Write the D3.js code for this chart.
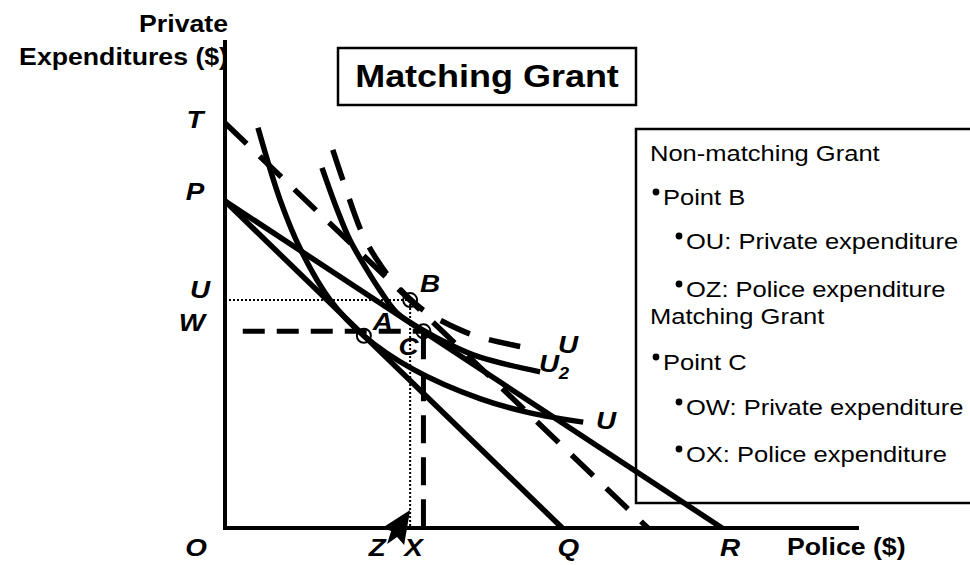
<!DOCTYPE html>
<html><head><meta charset="utf-8">
<script src="https://cdn.jsdelivr.net/npm/d3@7"></script>
<style>html,body{margin:0;padding:0;background:#fff;} svg{display:block;}</style>
</head><body><div id="chart"></div>
<script>
// ---- data (arbitrary units 0..100) ----
const levelT = 83, levelP = 67, levelU = 46.7, levelW = 40.3;
const posZ = 29.2, posX = 31.3, posQ = 53.2, posR = 78.4, posDash = 66.7;
const yLabels = ["T", "P", "U", "W"];
const yLabelValues = [levelT, levelP, levelU, levelW];
const xLabels = ["O", "Z", "X", "Q", "R"];
const xLabelValues = [0, posZ, posX, posQ, posR];
const budgetPQ = [[0, levelP], [posQ, 0]];
const budgetPR = [[0, levelP], [posR, 0]];
const budgetTD = [[0, levelT], [posDash, 0]];
const curveU1 = [[5.2,82],[8.7,67.2],[12.1,56.6],[16.6,46.7],[21.9,39.4],[29.7,32.5],[40.2,26.5],[48.1,23.6],[56.5,21.7]];
const curveU2 = [[15.3,73.8],[17.7,65.2],[19.7,59.0],[22.4,52.9],[24.4,48.8],[27.1,44.1],[31.3,40.5],[35,37.9],[40.2,35.0],[49.7,32.0]];
const curveU3 = [[17,77.5],[18.6,71.3],[21.6,60.5],[24,54.9],[26.5,50.5],[29.2,46.9],[31.9,44.1],[37.1,40.6],[40.2,39.1],[45.4,37.5],[49.7,36.5]];
const pointA = [21.9, 39.4], pointB = [posZ, levelU], pointC = [posX, levelW];
const titleText = "Matching Grant";
const legendLines = [
  {t: "Non-matching Grant", lvl: 0, bullet: false},
  {t: "Point B", lvl: 1, bullet: true},
  {t: "OU: Private expenditure", lvl: 2, bullet: true},
  {t: "OZ: Police expenditure", lvl: 2, bullet: true},
  {t: "Matching Grant", lvl: 0, bullet: false},
  {t: "Point C", lvl: 1, bullet: true},
  {t: "OW: Private expenditure", lvl: 2, bullet: true},
  {t: "OX: Police expenditure", lvl: 2, bullet: true}
];

// ---- drawing ----
const W = 970, H = 565, SX = 1.16;
const FONT = "'Liberation Sans', Arial, Helvetica, sans-serif";
const svg = d3.select("#chart").append("svg").attr("width", W).attr("height", H);
svg.append("rect").attr("width", W).attr("height", H).attr("fill", "#fff");

const x = d3.scaleLinear().domain([0, 100]).range([225, 859]);
const y = d3.scaleLinear().domain([0, 100]).range([528, 40]);

function txt(px, py, str, o = {}) {
  return svg.append("text")
    .attr("transform", `translate(${px},${py}) scale(${o.sx || SX},1)`)
    .attr("text-anchor", o.anchor || "middle")
    .attr("font-family", FONT)
    .attr("font-size", o.size || 24)
    .attr("font-weight", o.weight || "bold")
    .attr("font-style", o.style || "normal")
    .attr("fill", "#000")
    .text(str);
}

const line = d3.line().x(d => x(d[0])).y(d => y(d[1]));
const smooth = d3.line().x(d => x(d[0])).y(d => y(d[1])).curve(d3.curveCatmullRom.alpha(0.5));

// axes (no ticks)
svg.append("path").attr("d", line([[0, 100], [0, 0], [100, 0]]))
  .attr("fill", "none").attr("stroke", "#000").attr("stroke-width", 4);

// title box
svg.append("rect").attr("x", 338).attr("y", 48).attr("width", 298).attr("height", 57)
  .attr("fill", "#fff").attr("stroke", "#000").attr("stroke-width", 2.5);
txt(487, 87, titleText, {size: 31});

// legend box
svg.append("rect").attr("x", 636).attr("y", 129).attr("width", 340).attr("height", 374)
  .attr("fill", "#fff").attr("stroke", "#000").attr("stroke-width", 2.5);
const legendBase = [161, 205, 249, 297, 324, 370, 415, 462];
legendLines.forEach((l, i) => {
  const indent = [650, 652, 675][l.lvl];
  if (l.bullet) {
    svg.append("circle").attr("cx", indent + 4).attr("cy", legendBase[i] - 13).attr("r", 3.4).attr("fill", "#000");
    txt(indent + 11, legendBase[i], l.t, {anchor: "start", weight: "normal", size: 22});
  } else {
    txt(indent, legendBase[i], l.t, {anchor: "start", weight: "normal", size: 22});
  }
});

// axis titles
txt(228, 32, "Private", {anchor: "end", size: 23});
txt(228, 65, "Expenditures ($)", {anchor: "end", size: 23});
txt(787, 555, "Police ($)", {anchor: "start", size: 23});

// budget lines
[budgetPQ, budgetPR].forEach(b => {
  svg.append("path").attr("d", line(b)).attr("fill", "none").attr("stroke", "#000").attr("stroke-width", 5.5);
});
svg.append("path").attr("d", line(budgetTD)).attr("fill", "none").attr("stroke", "#000")
  .attr("stroke-width", 5.5).attr("stroke-dasharray", "30,18");

// indifference curves
svg.append("path").attr("d", smooth(curveU1)).attr("fill", "none").attr("stroke", "#000").attr("stroke-width", 5.5);
svg.append("path").attr("d", smooth(curveU2)).attr("fill", "none").attr("stroke", "#000").attr("stroke-width", 5.5);
svg.append("path").attr("d", smooth(curveU3)).attr("fill", "none").attr("stroke", "#000")
  .attr("stroke-width", 5.5).attr("stroke-dasharray", "32,20");

// guide lines
svg.append("path").attr("d", line([[0, levelU], pointB])).attr("fill", "none").attr("stroke", "#000")
  .attr("stroke-width", 2).attr("stroke-dasharray", "2,2");
svg.append("path").attr("d", line([pointB, [posZ, 0]])).attr("fill", "none").attr("stroke", "#000")
  .attr("stroke-width", 2).attr("stroke-dasharray", "2,2");
svg.append("path").attr("d", line([[2.8, levelW], pointC])).attr("fill", "none").attr("stroke", "#000")
  .attr("stroke-width", 5).attr("stroke-dasharray", "22,12");
svg.append("path").attr("d", line([pointC, [posX, 0]])).attr("fill", "none").attr("stroke", "#000")
  .attr("stroke-width", 5).attr("stroke-dasharray", "28,14");

// equilibrium circles
[pointA, pointB, pointC].forEach(p => {
  svg.append("circle").attr("cx", x(p[0])).attr("cy", y(p[1])).attr("r", 7)
    .attr("fill", "none").attr("stroke", "#000").attr("stroke-width", 2);
});

// axis letters
const lblY = {T: [195, 128], P: [195, 200], U: [200, 298], W: [192, 331]};
yLabels.forEach((l, i) => txt(lblY[l][0], lblY[l][1], l, {style: "italic"}));
const lblXoff = {O: -29, Z: -33, X: -10, Q: 6, R: 8};
xLabels.forEach((l, i) => txt(x(xLabelValues[i]) + lblXoff[l], 556, l, {style: "italic"}));

// arrow near Z (drawn over the Z label)
const zx = x(posZ), ax = y(0);
svg.append("path")
  .attr("d", `M${zx},${ax-18} L${zx-28},${ax} L${zx-19},${ax+3} L${zx-23},${ax+16} L${zx-13},${ax+9} L${zx-6},${ax+17} Z`)
  .attr("fill", "#000");

// point & curve labels
txt(x(pointA[0]) + 19, 330, "A", {style: "italic"});
txt(x(pointB[0]) + 20, 292, "B", {style: "italic"});
txt(x(pointC[0]) - 15, 355, "C", {style: "italic"});
txt(568, 353, "U", {style: "italic"});
txt(549, 372, "U", {style: "italic"});
txt(564, 379, "2", {style: "italic", size: 16});
txt(606, 429, "U", {style: "italic"});
</script></body></html>
